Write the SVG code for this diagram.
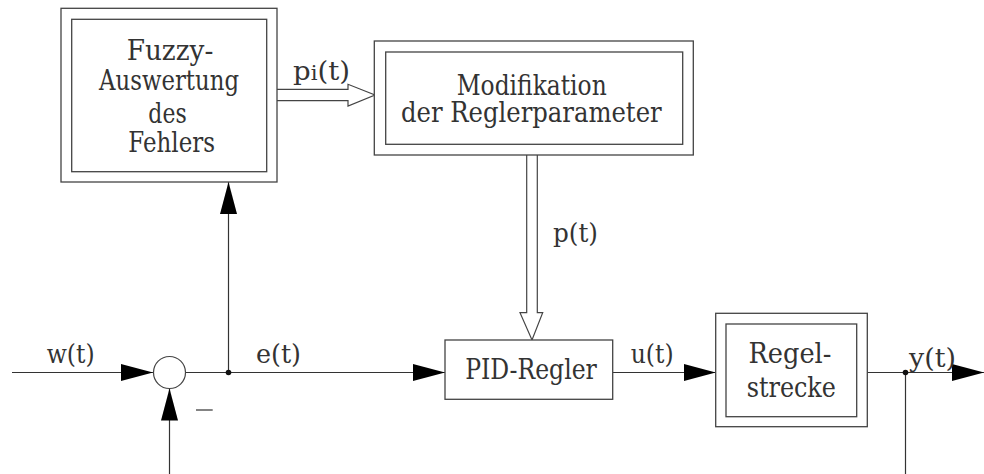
<svg xmlns="http://www.w3.org/2000/svg" width="984" height="474" viewBox="0 0 984 474">
  <style>
    .box { fill: #fff; stroke: #444; stroke-width: 1.3; }
    .ln { fill: none; stroke: #333; stroke-width: 1.2; }
    .hollow { fill: #fff; stroke: #444; stroke-width: 1.2; stroke-linejoin: miter; }
    .t { font-family: "DejaVu Serif", "Liberation Serif", serif; font-size: 28px; fill: #333; text-anchor: middle; }
    .lbl { font-family: "DejaVu Serif", "Liberation Serif", serif; font-size: 26px; fill: #333; }
    .dot { fill: #111; }
  </style>
  <defs>
    <marker id="arr" viewBox="0 0 32 17" refX="32" refY="8.5" markerWidth="32" markerHeight="17" markerUnits="userSpaceOnUse" orient="auto">
      <path d="M0,0 L32,8.5 L0,17 Z" fill="#000"/>
    </marker>
  </defs>

  <rect width="984" height="474" fill="#fff"/>

  <!-- connectors -->
  <g id="connectors">
    <line class="ln" x1="12" y1="372.5" x2="153" y2="372.5" marker-end="url(#arr)"/>
    <line class="ln" x1="185" y1="372.5" x2="445" y2="372.5" marker-end="url(#arr)"/>
    <line class="ln" x1="228.5" y1="372.5" x2="228.5" y2="182" marker-end="url(#arr)"/>
    <line class="ln" x1="169.5" y1="474" x2="169.5" y2="388.5" marker-end="url(#arr)"/>
    <line class="ln" x1="612.7" y1="372.5" x2="715.7" y2="372.5" marker-end="url(#arr)"/>
    <line class="ln" x1="867.3" y1="372.5" x2="984" y2="372.5" marker-end="url(#arr)"/>
    <line class="ln" x1="905.5" y1="372.5" x2="905.5" y2="474"/>
    <circle class="dot" cx="228.5" cy="372.5" r="2.8"/>
    <circle class="dot" cx="905.5" cy="372.5" r="2.8"/>
    <!-- hollow parameter arrows -->
    <polyline class="hollow" points="277,89.3 348,89.3 348,84.3 375,95 348,106 348,100.7 277,100.7"/>
    <polyline class="hollow" points="526.7,155 526.7,312.7 520,312.7 532,340 542.7,312.7 537.3,312.7 537.3,155"/>
    <!-- signal labels -->
    <text class="lbl" x="46.7" y="362.7" textLength="48" lengthAdjust="spacingAndGlyphs">w(t)</text>
    <text class="lbl" x="256" y="362.7" textLength="45" lengthAdjust="spacingAndGlyphs">e(t)</text>
    <text class="lbl" x="293" y="80" textLength="57" lengthAdjust="spacingAndGlyphs">p<tspan font-size="20">i</tspan>(t)</text>
    <text class="lbl" x="553" y="241.7" textLength="45" lengthAdjust="spacingAndGlyphs">p(t)</text>
    <text class="lbl" x="630.7" y="363" textLength="43" lengthAdjust="spacingAndGlyphs">u(t)</text>
    <text class="lbl" x="909" y="366.7" textLength="47" lengthAdjust="spacingAndGlyphs">y(t)</text>
  </g>

  <!-- summing junction -->
  <g id="sum">
    <circle cx="169.5" cy="372.5" r="16" fill="#fff" stroke="#444" stroke-width="1.2"/>
    <line class="ln" x1="196" y1="410" x2="212.7" y2="410"/>
  </g>

  <!-- fuzzy evaluation of the error -->
  <g id="fuzzy">
    <rect class="box" x="61" y="8.3" width="216" height="173.7"/>
    <rect class="box" x="71.7" y="19.3" width="195" height="152.4"/>
    <text class="t" x="170" y="60" textLength="86.7" lengthAdjust="spacingAndGlyphs">Fuzzy-</text>
    <text class="t" x="169" y="90" textLength="140" lengthAdjust="spacingAndGlyphs">Auswertung</text>
    <text class="t" x="167.5" y="123" textLength="38.3" lengthAdjust="spacingAndGlyphs">des</text>
    <text class="t" x="171.7" y="152" textLength="86.7" lengthAdjust="spacingAndGlyphs">Fehlers</text>
  </g>

  <!-- parameter modification -->
  <g id="modifikation">
    <rect class="box" x="374.3" y="41" width="319" height="114"/>
    <rect class="box" x="385.7" y="52" width="297" height="92.3"/>
    <text class="t" x="531.7" y="95" textLength="150" lengthAdjust="spacingAndGlyphs">Modifikation</text>
    <text class="t" x="531.3" y="121.7" textLength="260.7" lengthAdjust="spacingAndGlyphs">der Reglerparameter</text>
  </g>

  <!-- PID controller -->
  <g id="pid">
    <rect class="box" x="445" y="340" width="167.7" height="59.3"/>
    <text class="t" x="531" y="379.3" textLength="131.7" lengthAdjust="spacingAndGlyphs">PID-Regler</text>
  </g>

  <!-- plant -->
  <g id="strecke">
    <rect class="box" x="715.7" y="313.3" width="151.6" height="113.4"/>
    <rect class="box" x="726" y="324" width="130.7" height="92.7"/>
    <text class="t" x="790" y="362.7" textLength="83" lengthAdjust="spacingAndGlyphs">Regel-</text>
    <text class="t" x="791.3" y="396.7" textLength="89.3" lengthAdjust="spacingAndGlyphs">strecke</text>
  </g>
</svg>
